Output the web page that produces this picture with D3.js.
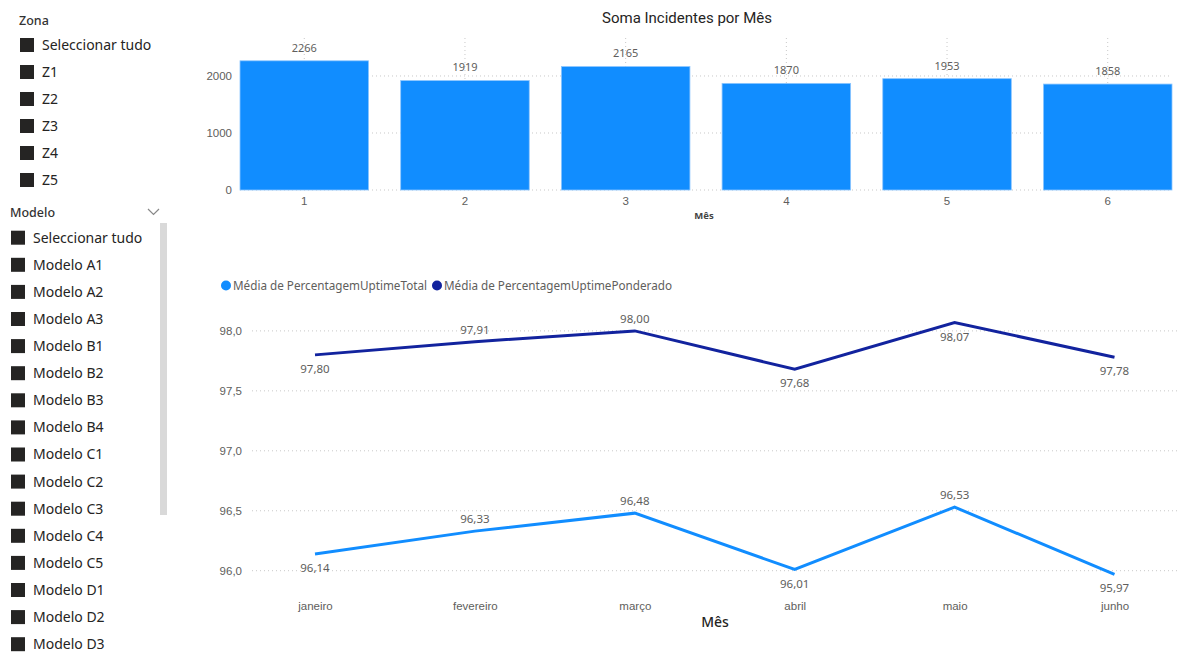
<!DOCTYPE html>
<html><head><meta charset="utf-8">
<script src="https://cdn.jsdelivr.net/npm/d3@7"></script>
<style>
body{margin:0;background:#fff;}
svg{display:block;font-family:"Segoe UI","Noto Sans","Open Sans",sans-serif;}
</style></head>
<body>
<svg id="chart" width="1187" height="652"></svg>
<script>
// ---------- DATA ----------
const zonaItems = ["Seleccionar tudo","Z1","Z2","Z3","Z4","Z5"];
const modeloItems = ["Seleccionar tudo","Modelo A1","Modelo A2","Modelo A3","Modelo B1","Modelo B2","Modelo B3","Modelo B4","Modelo C1","Modelo C2","Modelo C3","Modelo C4","Modelo C5","Modelo D1","Modelo D2","Modelo D3"];

const barMonths = ["1","2","3","4","5","6"];
const incidentes = [2266,1919,2165,1870,1953,1858];
const barTicks = [0,1000,2000];

const lineMonths = ["janeiro","fevereiro","março","abril","maio","junho"];
const uptimeTotal = [96.14,96.33,96.48,96.01,96.53,95.97];
const uptimePonderado = [97.80,97.91,98.00,97.68,98.07,97.78];
const lineTicks = [96.0,96.5,97.0,97.5,98.0];
const seriesNames = ["Média de PercentagemUptimeTotal","Média de PercentagemUptimePonderado"];
// label placement per point (above / below)
const totalLabelPlace = ["below","above","above","below","above","below"];
const ponderadoLabelPlace = ["below","above","above","below","below","below"];

// ---------- DRAW ----------
const svg = d3.select("#chart");
const txt = "#252423", grey = "#605E5C", gridCol = "#c8c8c8";
const fmtComma = d => d3.format(".2f")(d).replace(".", ",");
const fmt1 = d => d3.format(".1f")(d).replace(".", ",");

// Slicers
function slicer(items, yFirst, step, boxX, textX) {
  const g = svg.append("g");
  items.forEach((t, i) => {
    const y = yFirst + i * step;
    g.append("rect").attr("x", boxX).attr("y", y - 7).attr("width", 14).attr("height", 14).attr("fill", "#252423");
    g.append("text").attr("x", textX).attr("y", y).attr("dy", "0.35em")
      .attr("font-size", 14).attr("fill", txt).text(t);
  });
}
svg.append("text").attr("x", 19).attr("y", 21).attr("dy", "0.35em").attr("font-size", 12.5)
  .attr("font-weight", 500).attr("fill", "#333").text("Zona");
slicer(zonaItems, 45, 27, 20, 42);

svg.append("text").attr("x", 10).attr("y", 213).attr("dy", "0.35em").attr("font-size", 12.5)
  .attr("font-weight", 500).attr("fill", "#333").text("Modelo");
svg.append("path").attr("d", "M148,209 L153.5,214.5 L159,209").attr("fill", "none")
  .attr("stroke", "#888").attr("stroke-width", 1.2);
svg.append("rect").attr("x", 160).attr("y", 223).attr("width", 7).attr("height", 292).attr("fill", "#d9d9d9");
slicer(modeloItems, 237.7, 27.1, 11, 33);

// Bar chart
const xb = d3.scaleBand().domain(barMonths).range([240, 1172]).paddingInner(0.2).paddingOuter(0);
const yb = d3.scaleLinear().domain([0, 2666]).range([190, 38]);

svg.append("text").attr("x", 687).attr("y", 18).attr("dy", "0.35em").attr("text-anchor", "middle")
  .attr("font-family", "Roboto, sans-serif").attr("font-size", 15).attr("fill", txt).text("Soma Incidentes por Mês");

const gb = svg.append("g");
gb.selectAll("line.hg").data(barTicks).join("line")
  .attr("x1", 240).attr("x2", 1172).attr("y1", d => yb(d)).attr("y2", d => yb(d))
  .attr("stroke", gridCol).attr("stroke-dasharray", "1 3");
gb.selectAll("line.vg").data(barMonths).join("line")
  .attr("x1", d => xb(d) + xb.bandwidth() / 2).attr("x2", d => xb(d) + xb.bandwidth() / 2)
  .attr("y1", 38).attr("y2", 190)
  .attr("stroke", gridCol).attr("stroke-dasharray", "1 3");
gb.selectAll("rect.bar").data(incidentes).join("rect")
  .attr("x", (d, i) => xb(barMonths[i])).attr("width", xb.bandwidth())
  .attr("y", d => yb(d)).attr("height", d => yb(0) - yb(d))
  .attr("fill", "#118DFF").attr("stroke", "#8cc6ff").attr("stroke-width", 0.8);
gb.selectAll("text.bl").data(incidentes).join("text")
  .attr("x", (d, i) => xb(barMonths[i]) + xb.bandwidth() / 2).attr("y", d => yb(d) - 13).attr("dy", "0.35em")
  .attr("text-anchor", "middle").attr("font-size", 11).attr("fill", grey).text(d => d);

const yAxisB = d3.axisLeft(yb).tickValues(barTicks).tickSize(0).tickPadding(0).tickFormat(d => d);
const yAxB = svg.append("g").attr("transform", "translate(232,0)").call(yAxisB);
yAxB.select(".domain").remove();
yAxB.selectAll("text").attr("font-size", 11.5).attr("fill", grey).attr("font-family", null);

const xAxisB = d3.axisBottom(xb).tickSize(0).tickPadding(0);
const xAxB = svg.append("g").attr("transform", "translate(0,201)").call(xAxisB);
xAxB.select(".domain").remove();
xAxB.selectAll("text").attr("font-size", 11.5).attr("fill", grey).attr("dy", "0.35em").attr("font-family", null);
svg.append("text").attr("x", 704).attr("y", 216).attr("dy", "0.35em").attr("text-anchor", "middle")
  .attr("font-size", 9.5).attr("font-weight", 700).attr("fill", "#444").text("Mês");

// Line chart
const xl = d3.scalePoint().domain(lineMonths).range([315, 1114.5]);
const yl = d3.scaleLinear().domain([96, 98]).range([570.7, 330.9]);
const colors = ["#118DFF", "#12239E"];

const gl = svg.append("g");
gl.selectAll("line.hg").data(lineTicks).join("line")
  .attr("x1", 252).attr("x2", 1178).attr("y1", d => yl(d)).attr("y2", d => yl(d))
  .attr("stroke", gridCol).attr("stroke-dasharray", "1 3");

const yAxisL = d3.axisLeft(yl).tickValues(lineTicks).tickSize(0).tickPadding(0).tickFormat(fmt1);
const yAxL = svg.append("g").attr("transform", "translate(242,0)").call(yAxisL);
yAxL.select(".domain").remove();
yAxL.selectAll("text").attr("font-size", 11.5).attr("fill", grey).attr("font-family", null);

const xAxisL = d3.axisBottom(xl).tickSize(0).tickPadding(0);
const xAxL = svg.append("g").attr("transform", "translate(0,605.5)").call(xAxisL);
xAxL.select(".domain").remove();
xAxL.selectAll("text").attr("font-size", 11.5).attr("fill", grey).attr("dy", "0.35em").attr("font-family", null);
svg.append("text").attr("x", 715).attr("y", 622).attr("dy", "0.35em").attr("text-anchor", "middle")
  .attr("font-size", 14).attr("font-weight", 500).attr("fill", txt).text("Mês");

const lineGen = d3.line().x((d, i) => xl(lineMonths[i])).y(d => yl(d));
[[uptimeTotal, totalLabelPlace], [uptimePonderado, ponderadoLabelPlace]].forEach(([vals, place], s) => {
  gl.append("path").datum(vals).attr("d", lineGen).attr("fill", "none")
    .attr("stroke", colors[s]).attr("stroke-width", 3).attr("stroke-linejoin", "miter");
  gl.selectAll("text.dl" + s).data(vals).join("text")
    .attr("x", (d, i) => xl(lineMonths[i]))
    .attr("y", (d, i) => yl(d) + (place[i] === "above" ? -12 : 14))
    .attr("dy", "0.35em").attr("text-anchor", "middle")
    .attr("font-size", 11.5).attr("fill", grey).text(fmtComma);
});

// Legend
const leg = svg.append("g");
const legX = [226, 437];
seriesNames.forEach((n, i) => {
  leg.append("circle").attr("cx", legX[i]).attr("cy", 285.5).attr("r", 5).attr("fill", colors[i]);
  leg.append("text").attr("x", legX[i] + 7).attr("y", 285.5).attr("dy", "0.35em")
    .attr("font-size", 11.7).attr("fill", grey).text(n);
});
</script>
</body></html>
